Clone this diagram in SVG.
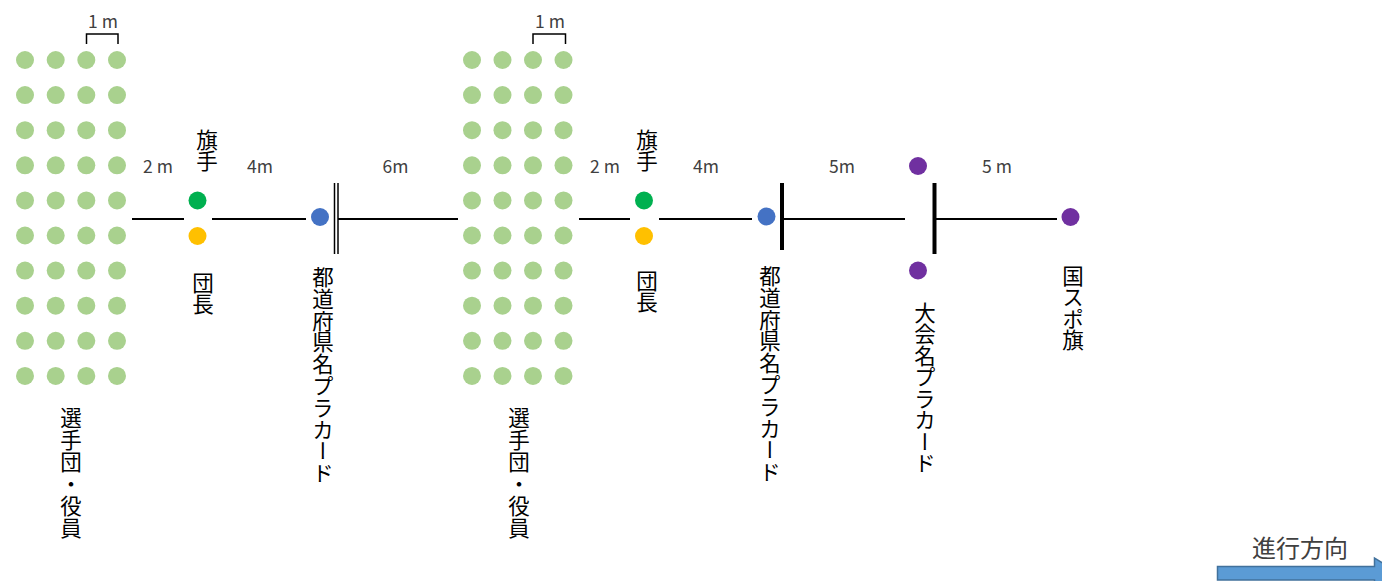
<svg xmlns="http://www.w3.org/2000/svg" xmlns:xlink="http://www.w3.org/1999/xlink" width="1382" height="581" viewBox="0 0 1382 581">
<style>
.lg{fill:#a9d18e}
.gr{fill:#00b050}
.or{fill:#ffc000}
.bl{fill:#4472c4}
.pu{fill:#7030a0}
.ln{stroke:#000;stroke-width:2;fill:none}
.dbl{stroke:#000;stroke-width:1.5;fill:none}
.thk{stroke:#000;stroke-width:4;fill:none}
.br{stroke:#000;stroke-width:1.5;fill:none}
.lab{font-family:"Noto Sans CJK JP","Noto Sans",sans-serif;font-size:17.5px;fill:#404040;text-anchor:middle}
.vt{font-family:"Noto Sans CJK JP",sans-serif;font-size:21.5px;fill:#000;writing-mode:vertical-rl;text-orientation:upright}
.dir{font-family:"Noto Sans CJK JP",sans-serif;font-size:24px;fill:#404040;text-anchor:middle}
</style>
<defs>
<g id="col">
<circle cx="0" cy="60" r="9"/>
<circle cx="0" cy="95.1" r="9"/>
<circle cx="0" cy="130.2" r="9"/>
<circle cx="0" cy="165.3" r="9"/>
<circle cx="0" cy="200.4" r="9"/>
<circle cx="0" cy="235.5" r="9"/>
<circle cx="0" cy="270.6" r="9"/>
<circle cx="0" cy="305.7" r="9"/>
<circle cx="0" cy="340.8" r="9"/>
<circle cx="0" cy="375.9" r="9"/>
</g>
</defs>
<rect width="1382" height="581" fill="#fff"/>

<g id="connectors">
<line class="ln" x1="132" y1="219" x2="184" y2="219"/>
<line class="ln" x1="212" y1="219" x2="306" y2="219"/>
<line class="dbl" x1="334.5" y1="183" x2="334.5" y2="254"/>
<line class="dbl" x1="338" y1="183" x2="338" y2="254"/>
<line class="ln" x1="338" y1="219" x2="458" y2="219"/>
<line class="ln" x1="579" y1="219" x2="630" y2="219"/>
<line class="ln" x1="659" y1="219" x2="752" y2="219"/>
<line class="thk" x1="782" y1="183" x2="782" y2="250"/>
<line class="ln" x1="784" y1="219" x2="905" y2="219"/>
<line class="thk" x1="934.5" y1="183" x2="934.5" y2="254"/>
<line class="ln" x1="936" y1="219" x2="1057" y2="219"/>
</g>

<g id="group1-players">
<g class="lg">
<use xlink:href="#col" x="25"/>
<use xlink:href="#col" x="55.7"/>
<use xlink:href="#col" x="86.3"/>
<use xlink:href="#col" x="117"/>
</g>
<path class="br" d="M86.5,44 V34 H118 V44"/>
<text class="lab" x="103" y="28">1 m</text>
<text class="vt" x="71" y="407" letter-spacing="0.5">選手団・役員</text>
</g>

<g id="group1-flag">
<circle class="gr" cx="197.5" cy="200.5" r="9"/>
<circle class="or" cx="197.5" cy="236" r="9"/>
<text class="vt" x="207" y="129">旗手</text>
<text class="vt" x="203" y="272">団長</text>
<text class="lab" x="158" y="173">2 m</text>
<text class="lab" x="260" y="173">4m</text>
</g>

<g id="group1-placard">
<circle class="bl" cx="320" cy="217" r="9"/>
<text class="vt" x="323" y="266" letter-spacing="0.3">都道府県名プラカード</text>
<text class="lab" x="395.5" y="173">6m</text>
</g>

<g id="group2-players">
<g class="lg">
<use xlink:href="#col" x="472"/>
<use xlink:href="#col" x="502.5"/>
<use xlink:href="#col" x="533"/>
<use xlink:href="#col" x="563.5"/>
</g>
<path class="br" d="M533,44 V34 H565.5 V44"/>
<text class="lab" x="550" y="28">1 m</text>
<text class="vt" x="519" y="407" letter-spacing="0.5">選手団・役員</text>
</g>

<g id="group2-flag">
<circle class="gr" cx="644" cy="200.5" r="9"/>
<circle class="or" cx="644" cy="236" r="9"/>
<text class="vt" x="647" y="129">旗手</text>
<text class="vt" x="647" y="270">団長</text>
<text class="lab" x="605" y="173">2 m</text>
<text class="lab" x="706" y="173">4m</text>
</g>

<g id="group2-placard">
<circle class="bl" cx="766.5" cy="216.5" r="9"/>
<text class="vt" x="770" y="265" letter-spacing="0.3">都道府県名プラカード</text>
<text class="lab" x="842" y="173">5m</text>
</g>

<g id="tournament-placard">
<circle class="pu" cx="918" cy="166" r="9"/>
<circle class="pu" cx="918" cy="270.5" r="9"/>
<text class="vt" x="925" y="302">大会名プラカード</text>
<text class="lab" x="997" y="173">5 m</text>
</g>

<g id="kokuspo-flag">
<circle class="pu" cx="1070.5" cy="217" r="9"/>
<text class="vt" x="1073" y="265">国スポ旗</text>
</g>

<g id="direction">
<text class="dir" x="1300" y="557">進行方向</text>
<polygon points="1217.5,566.5 1374.5,566.5 1374.5,558 1400,573.5 1374.5,589 1374.5,580 1217.5,580" fill="#5b9bd5" stroke="#41719c" stroke-width="1.5"/>
</g>
</svg>
